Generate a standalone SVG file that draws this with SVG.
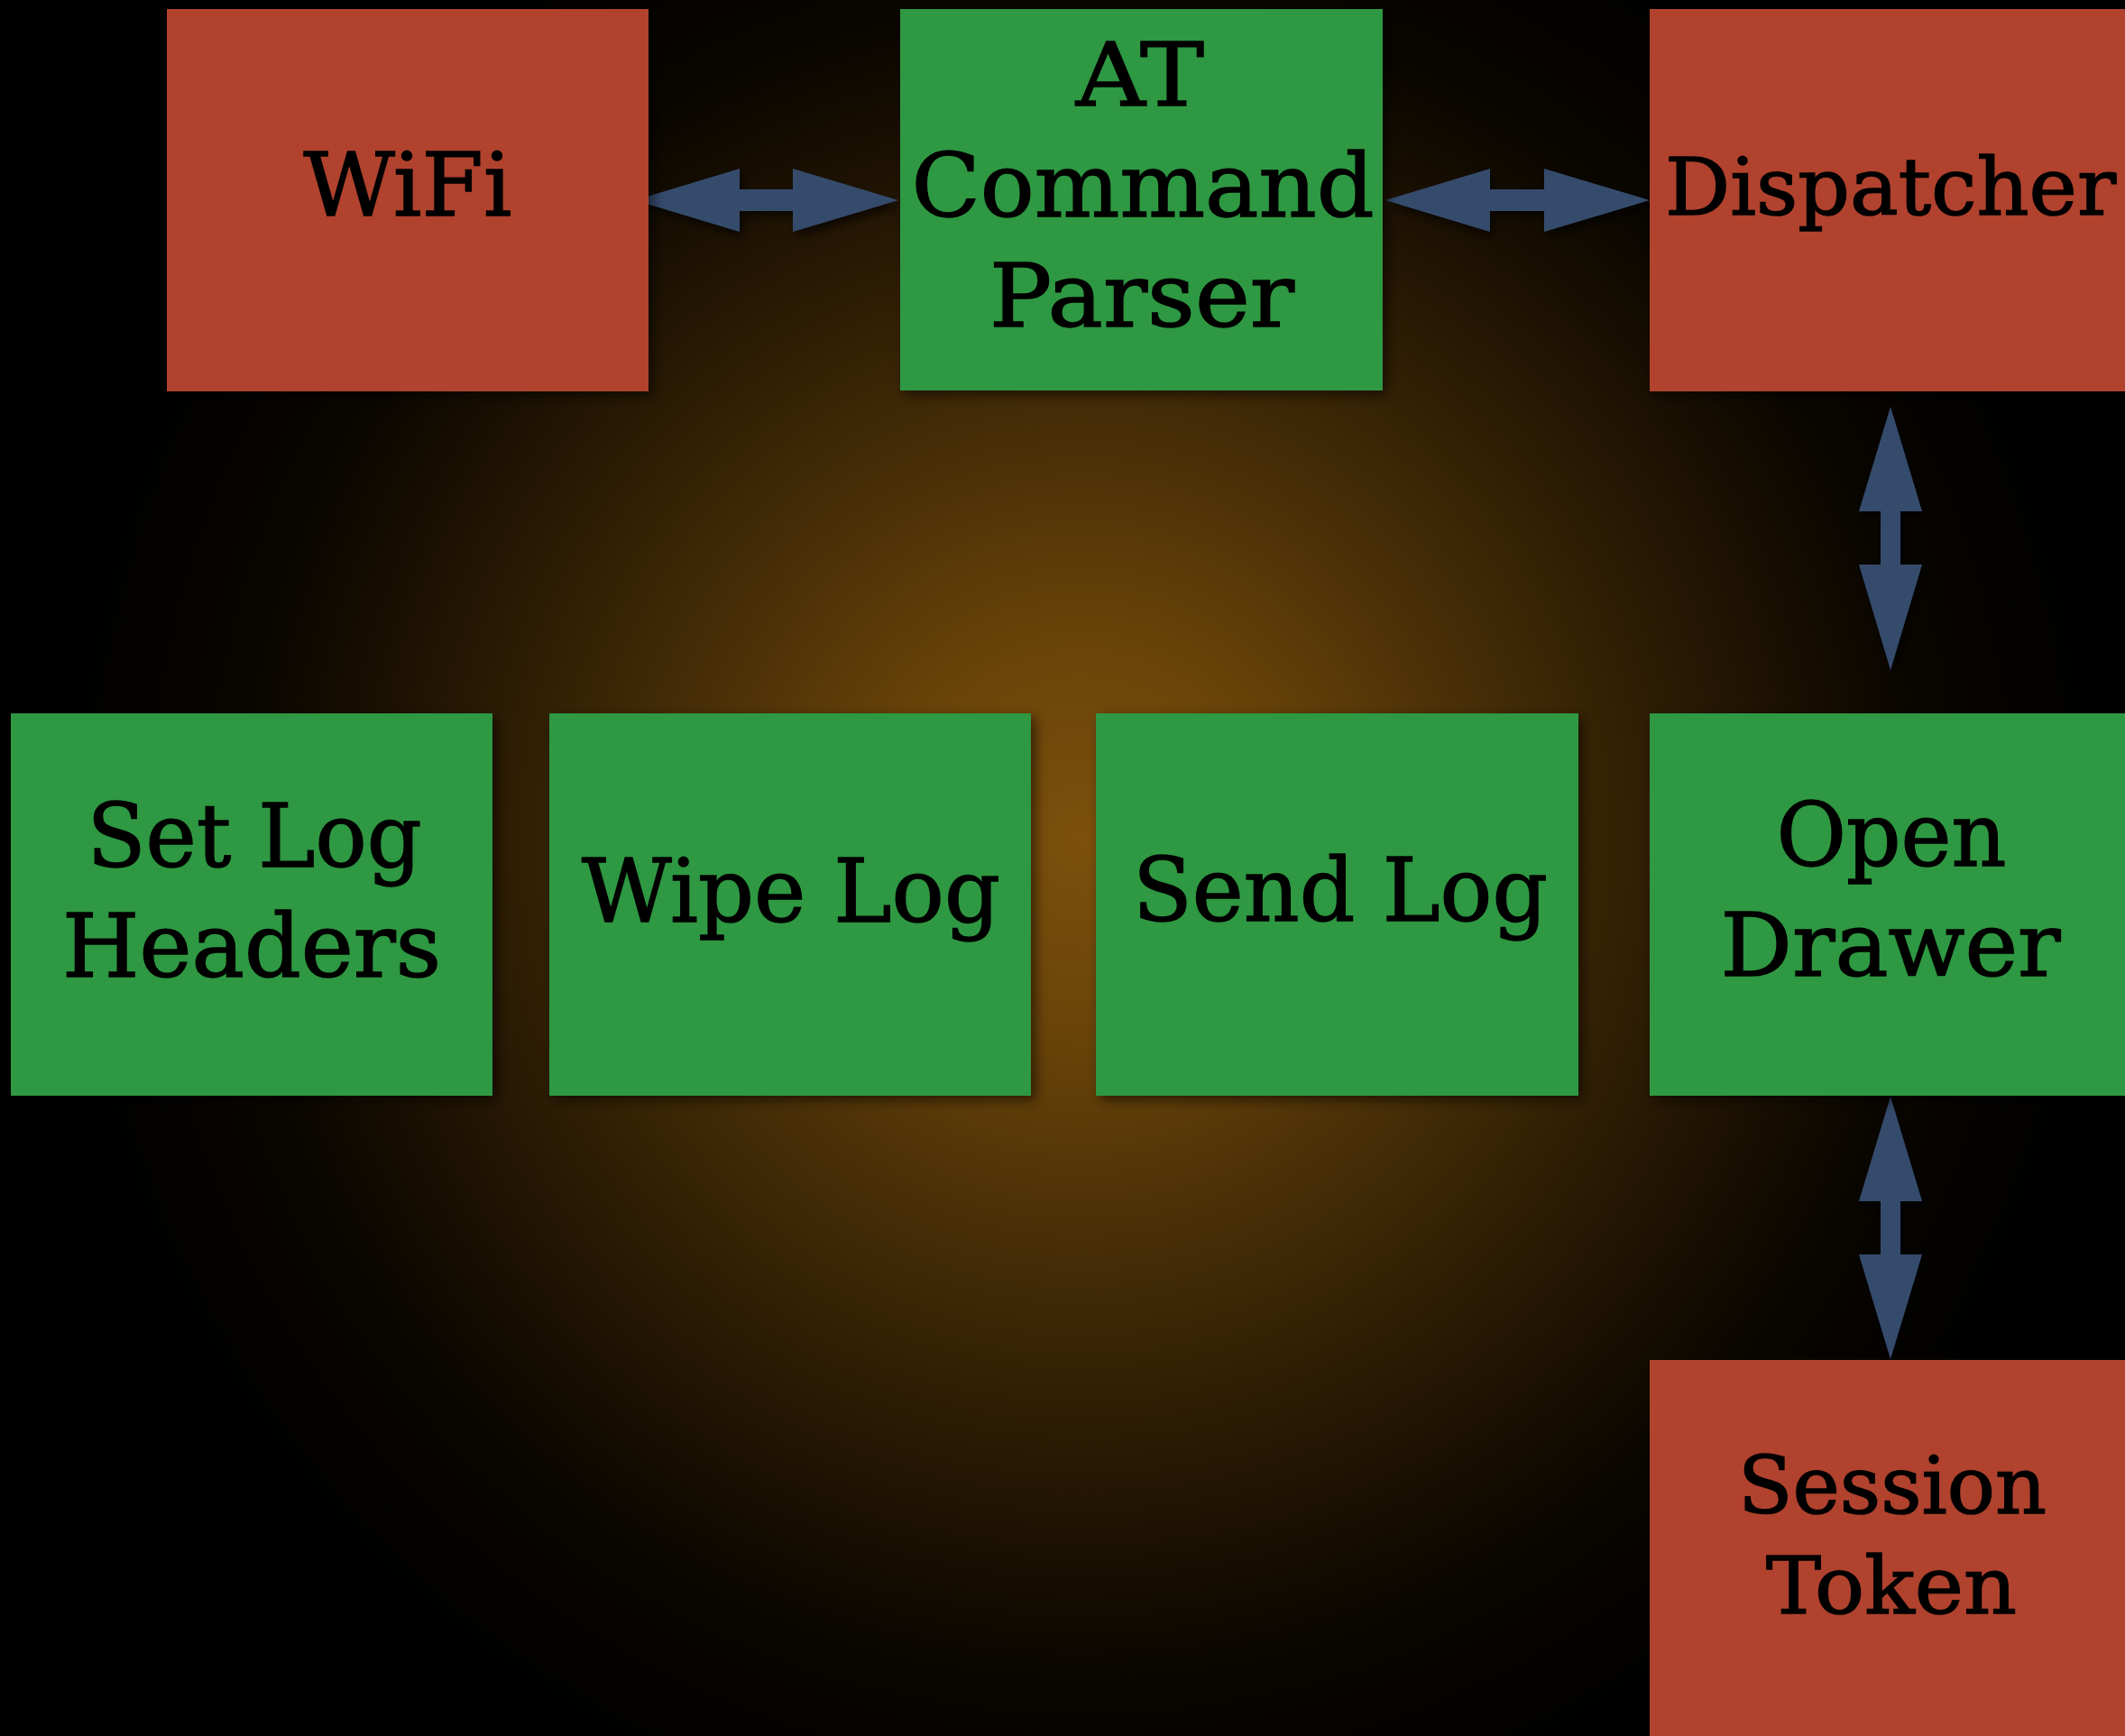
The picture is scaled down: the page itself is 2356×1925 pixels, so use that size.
<svg xmlns="http://www.w3.org/2000/svg" width="2356" height="1925" viewBox="0 0 2356 1925">
  <defs>
    <radialGradient id="bg" gradientUnits="userSpaceOnUse" cx="1200" cy="930" r="1150">
      <stop offset="0" stop-color="#7d500c"/>
      <stop offset="0.2" stop-color="#684309"/>
      <stop offset="0.45" stop-color="#3e2806"/>
      <stop offset="0.62" stop-color="#251703"/>
      <stop offset="0.8" stop-color="#0a0600"/>
      <stop offset="1" stop-color="#000000"/>
    </radialGradient>
    <filter id="shadow" x="-10%" y="-10%" width="125%" height="125%">
      <feDropShadow dx="5" dy="5" stdDeviation="7" flood-color="#000" flood-opacity="0.55"/>
    </filter>
    <filter id="ashadow" x="-20%" y="-20%" width="150%" height="150%">
      <feDropShadow dx="4" dy="6" stdDeviation="5" flood-color="#000" flood-opacity="0.6"/>
    </filter>
  </defs>
  <style>
    .red { fill: #b0432f; }
    .green { fill: #2d9842; }
    .box { filter: url(#shadow); }
    .lbl { font-family: "DejaVu Serif", "Liberation Serif", serif; font-size: 97px; fill: #000; stroke: #000; stroke-width: 1.5px; text-anchor: middle; }
    .sm { font-size: 88px; }
    .arrow { fill: #354b6c; filter: url(#ashadow); }
  </style>

  <rect x="0" y="0" width="2356" height="1925" fill="url(#bg)"/>

  <g id="connectors">
    <polygon class="arrow" points="704,222 820,187 820,210 879,210 879,187 996,222 879,257 879,234 820,234 820,257"/>
    <polygon class="arrow" points="1536,222 1652,187 1652,210 1712,210 1712,187 1829,222 1712,257 1712,234 1652,234 1652,257"/>
    <polygon class="arrow" points="2096,451 2131,567 2107,567 2107,626 2131,626 2096,743 2061,626 2085,626 2085,567 2061,567"/>
    <polygon class="arrow" points="2096,1216 2131,1332 2107,1332 2107,1391 2131,1391 2096,1507 2061,1391 2085,1391 2085,1332 2061,1332"/>
  </g>

  <g id="wifi">
    <rect class="box red" x="185" y="10" width="534" height="424"/>
    <text class="lbl" x="452" y="239" textLength="231" lengthAdjust="spacingAndGlyphs">WiFi</text>
  </g>

  <g id="at-command-parser">
    <rect class="box green" x="998" y="10" width="535" height="423"/>
    <text class="lbl" x="1264" y="117" textLength="142" lengthAdjust="spacingAndGlyphs">AT</text>
    <text class="lbl" x="1267" y="240" textLength="513" lengthAdjust="spacingAndGlyphs">Command</text>
    <text class="lbl" x="1266" y="362" textLength="338" lengthAdjust="spacingAndGlyphs">Parser</text>
  </g>

  <g id="dispatcher">
    <rect class="box red" x="1829" y="10" width="534" height="424"/>
    <text class="lbl sm" x="2096" y="238" textLength="500" lengthAdjust="spacingAndGlyphs">Dispatcher</text>
  </g>

  <g id="set-log-headers">
    <rect class="box green" x="12" y="791" width="534" height="424"/>
    <text class="lbl" x="282" y="961" textLength="371" lengthAdjust="spacingAndGlyphs">Set Log</text>
    <text class="lbl" x="279" y="1083" textLength="420" lengthAdjust="spacingAndGlyphs">Headers</text>
  </g>

  <g id="wipe-log">
    <rect class="box green" x="609" y="791" width="534" height="424"/>
    <text class="lbl" x="877" y="1022" textLength="464" lengthAdjust="spacingAndGlyphs">Wipe Log</text>
  </g>

  <g id="send-log">
    <rect class="box green" x="1215" y="791" width="535" height="424"/>
    <text class="lbl" x="1486" y="1021" textLength="460" lengthAdjust="spacingAndGlyphs">Send Log</text>
  </g>

  <g id="open-drawer">
    <rect class="box green" x="1829" y="791" width="534" height="424"/>
    <text class="lbl" x="2097" y="960" textLength="255" lengthAdjust="spacingAndGlyphs">Open</text>
    <text class="lbl" x="2096" y="1082" textLength="377" lengthAdjust="spacingAndGlyphs">Drawer</text>
  </g>

  <g id="session-token">
    <rect class="box red" x="1829" y="1508" width="534" height="424"/>
    <text class="lbl sm" x="2098" y="1678" textLength="342" lengthAdjust="spacingAndGlyphs">Session</text>
    <text class="lbl sm" x="2097" y="1789" textLength="278" lengthAdjust="spacingAndGlyphs">Token</text>
  </g>
</svg>
